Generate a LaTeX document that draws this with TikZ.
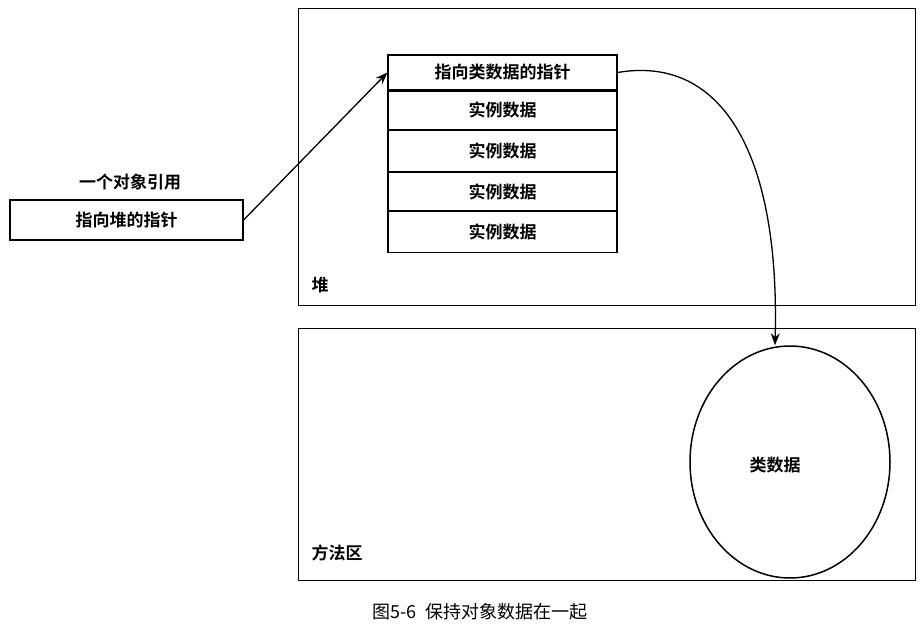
\documentclass[tikz,border=0pt]{standalone}
\usepackage{fontspec}
\setmainfont{Noto Sans CJK SC}[BoldFont={Noto Sans CJK SC Bold}]
\usetikzlibrary{arrows.meta,shapes.geometric}
\begin{document}
\begin{tikzpicture}[x=1pt,y=-1pt,
  lbl/.style={font=\fontsize{17}{20}\selectfont\bfseries},
  cell/.style={draw,line width=1.2pt,minimum width=229pt,minimum height=38pt,inner sep=0pt,font=\fontsize{17}{20}\selectfont\bfseries},
  area/.style={draw,line width=1pt},
  conn/.style={line width=1.3pt,-{Stealth[length=12pt,width=9pt]}}]
\useasboundingbox (0,0) rectangle (922,635);
\draw[area] (298,8) rectangle (915,305);
\draw[area] (298,328) rectangle (915,580);
\node[lbl,anchor=west] (heap) at (308,285) {堆};
\node[lbl,anchor=west] (meth) at (308,553) {方法区};
\node[cell,minimum height=35pt] (p) at (502.5,72.5) {指向类数据的指针};
\node[cell,anchor=north] (d1) at (p.south) {实例数据};
\node[cell,anchor=north,minimum height=41pt] (d2) at (d1.south) {实例数据};
\node[cell,anchor=north] (d3) at (d2.south) {实例数据};
\node[cell,anchor=north,minimum height=41pt] (d4) at (d3.south) {实例数据};
\node[lbl] (reflbl) at (130,182) {一个对象引用};
\node[cell,minimum width=233pt,minimum height=40pt] (ref) at (126.5,220) {指向堆的指针};
\node[draw,ellipse,line width=1.5pt,minimum width=200pt,minimum height=232pt,inner sep=0pt] (cls) at (790,462) {};
\node[lbl] at (775,465) {类数据};
\draw[conn] (ref.east) -- (p.west);
\draw[conn] (p.east) .. controls (720,55) and (780,150) .. (cls.north -| 775,0);
\node[font=\fontsize{18}{20}\selectfont] (cap) at (480,612) {图5-6\enspace 保持对象数据在一起};
\end{tikzpicture}
\end{document}
